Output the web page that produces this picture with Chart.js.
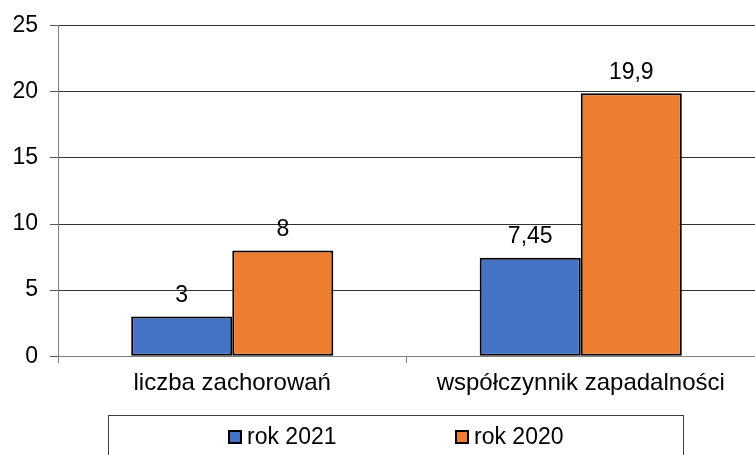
<!DOCTYPE html>
<html>
<head>
<meta charset="utf-8">
<script src="https://cdn.jsdelivr.net/npm/chart.js@4/dist/chart.umd.min.js"></script>
<style>
html,body{margin:0;padding:0;background:#fff;}
#wrap{width:755px;height:455px;}
</style>
</head>
<body>
<div id="wrap"><canvas id="c" width="755" height="455"></canvas></div>
<script>
const categories = ["liczba zachorowań", "współczynnik zapadalności"];
const series2021 = [3, 7.45];
const series2020 = [8, 19.9];
const seriesNames = ["rok 2021", "rok 2020"];
const seriesColors = ["#4472C4", "#ED7D31"];
const yTicks = [0, 5, 10, 15, 20, 25];

const FONT = "'Liberation Sans', Arial, sans-serif";
const FS = 23;

const valueLabels = {
  id: 'valueLabels',
  afterDatasetsDraw(chart) {
    const ctx = chart.ctx;
    ctx.save();
    ctx.font = FS + "px " + FONT;
    ctx.fillStyle = "#000";
    ctx.textAlign = "center";
    ctx.textBaseline = "middle";
    chart.data.datasets.forEach((ds, i) => {
      chart.getDatasetMeta(i).data.forEach((bar, j) => {
        const v = ds.data[j];
        ctx.fillText(String(v).replace('.', ','), bar.x, bar.y - 21);
      });
    });
    ctx.restore();
  }
};

const legendBox = {
  id: 'legendBox',
  afterDraw(chart) {
    const ctx = chart.ctx;
    ctx.save();
    ctx.strokeStyle = "#404040";
    ctx.lineWidth = 1;
    ctx.strokeRect(108.5, 415.5, 575, 60);
    ctx.font = FS + "px " + FONT;
    ctx.textBaseline = "middle";
    ctx.textAlign = "left";
    const starts = [229, 456];
    const cy = 437;
    chart.data.datasets.forEach((ds, i) => {
      const x = starts[i];
      ctx.fillStyle = ds.backgroundColor;
      ctx.fillRect(x, cy - 6, 12, 12);
      ctx.strokeStyle = "#000";
      ctx.lineWidth = 2;
      ctx.strokeRect(x, cy - 6, 12, 12);
      ctx.fillStyle = "#000";
      ctx.fillText(ds.label, x + 18, cy + 1);
    });
    ctx.restore();
  }
};

new Chart(document.getElementById('c'), {
  type: 'bar',
  data: {
    labels: categories,
    datasets: [
      { label: seriesNames[0], data: series2021, backgroundColor: seriesColors[0], borderColor: '#000', borderWidth: 2, borderSkipped: false },
      { label: seriesNames[1], data: series2020, backgroundColor: seriesColors[1], borderColor: '#000', borderWidth: 2, borderSkipped: false }
    ]
  },
  options: {
    responsive: false,
    animation: false,
    devicePixelRatio: 1,
    layout: { padding: { top: 21, right: 0, left: 0, bottom: 51 } },
    datasets: { bar: { barPercentage: 1.0, categoryPercentage: 0.58 } },
    plugins: {
      tooltip: { enabled: false },
      legend: { display: false }
    },
    scales: {
      x: {
        grid: { offset: true, drawOnChartArea: false, drawTicks: true, tickLength: 7, color: '#808080' },
        border: { color: '#808080', width: 1 },
        ticks: { font: { size: 24, family: FONT }, color: '#000', padding: 6 }
      },
      y: {
        min: 0, max: 25,
        afterBuildTicks(scale) { scale.ticks = yTicks.map(v => ({ value: v })); },
        afterFit(scale) { scale.width = 58; },
        grid: { color: '#333', tickLength: 8, tickColor: '#555' },
        border: { color: '#808080', width: 1 },
        ticks: { font: { size: FS, family: FONT }, color: '#000', padding: 12 }
      }
    }
  },
  plugins: [valueLabels, legendBox]
});
</script>
</body>
</html>
